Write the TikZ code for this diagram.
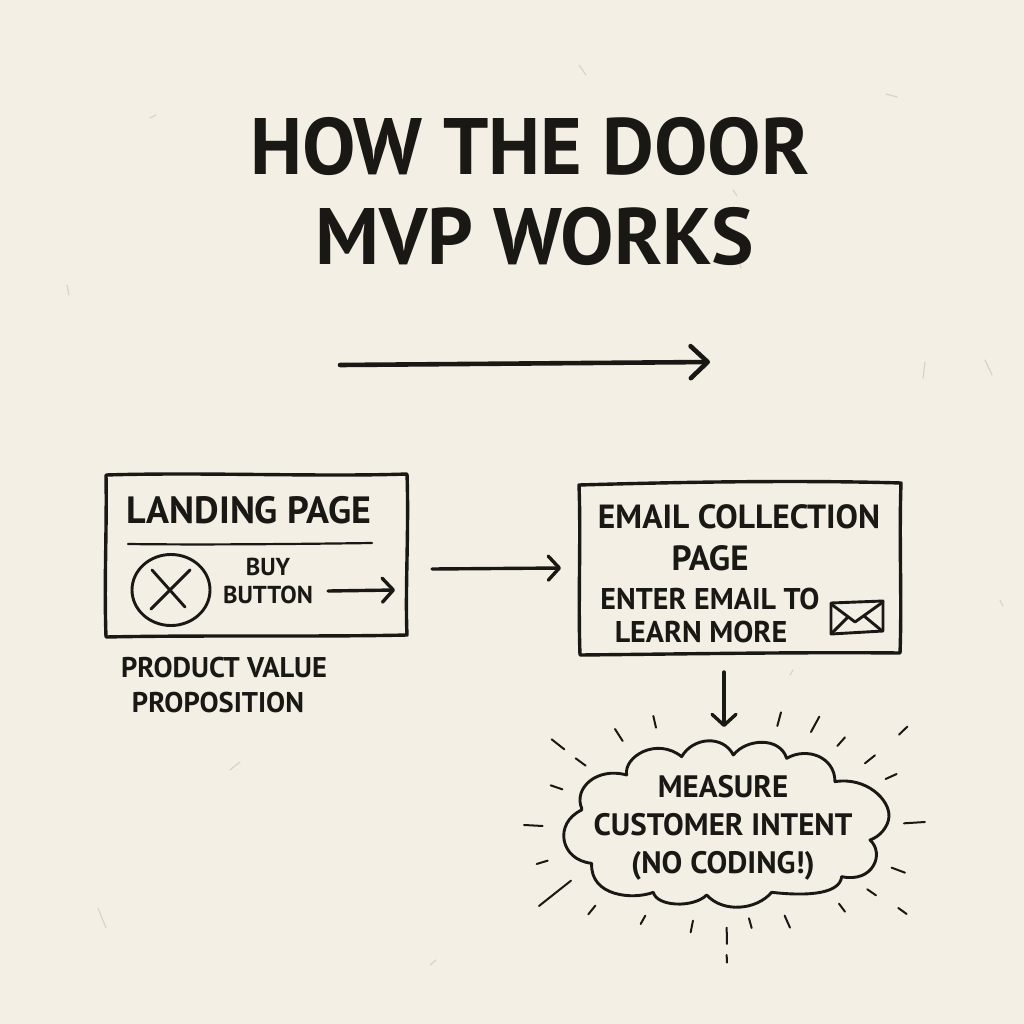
\documentclass[tikz,border=0pt]{standalone}
\usepackage{fontspec}
\setmainfont{PT Sans}
\usetikzlibrary{arrows.meta}
\definecolor{paper}{HTML}{F3EFE4}
\definecolor{ink}{HTML}{1A1815}
\definecolor{fibre}{HTML}{DAD4C1}
\newcommand{\fs}[1]{\fontsize{#1}{#1}\selectfont}
\tikzset{
  x=1pt,y=-1pt,
  sketch/.style={draw=ink,line width=3.4pt,line cap=round,line join=round},
  thin sketch/.style={draw=ink,line width=2.9pt,line cap=round,line join=round},
  tick/.style={draw=ink,line width=2pt,line cap=round},
  fib/.style={draw=fibre,line width=1.2pt,line cap=round},
  arrow big/.style={draw=ink,line width=4.6pt,line cap=round,-{Straight Barb[length=17pt,width=32pt,round,line width=4.6pt]}},
  arrow mid/.style={draw=ink,line width=3.4pt,line cap=round,-{Straight Barb[length=11pt,width=24pt,round,line width=3.4pt]}},
  frame/.style={minimum width=#1,inner sep=0pt,outer sep=0pt},
  label text/.style={text=ink,align=center,inner sep=0pt,font=\bfseries},
}
\begin{document}
\begin{tikzpicture}
\fill[paper] (0,0) rectangle (1024,1024);
\useasboundingbox (0,0) rectangle (1024,1024);
% paper fibres
\foreach \a/\b/\c/\d in {886/94/897/97,985/360/992/375,925/362/923/378,150/118/156/115,67/285/69/295,98/908/106/928,738/258/741/268,733/190/737/196,579/65/586/75,1000/600/1003/606,230/770/240/762,790/675/793/670,430/965/436/960}{
  \draw[fib] (\a,\b) -- (\c,\d);
}
% title
\node[label text,font=\bfseries\fs{80}] (title) at (530,191.5) {HOW THE DOOR\\[10pt]\hspace*{10pt}MVP WORKS};
% flow arrow under the title
\coordinate (flowstart) at (340,365);
\coordinate (flowend) at (710,362);
\draw[arrow big] (flowstart) -- (flowend);
% landing page box
\node[frame=301pt,minimum height=162pt] (landing) at (256.5,555.5) {};
\draw[sketch] (106,475) .. controls (200,472) and (320,477) .. (407,474) .. controls (409,530) and (405,590) .. (407,635) .. controls (320,637) and (200,635) .. (106,637) .. controls (104,580) and (107,530) .. (106,475) -- cycle;
\node[label text,font=\bfseries\fs{38}] (landingtitle) at (249,510) {LANDING PAGE};
\draw[ink,line width=2.2pt,line cap=round] (128,544) .. controls (200,545) and (300,544) .. (372,543);
\draw[thin sketch] (171,590) ellipse [x radius=39,y radius=35.5];
\node[inner sep=0pt] (xmark) at (171,590) {};
\draw[thin sketch] (151,609) -- (190,570) (152,570) -- (185,607);
\node[label text,font=\bfseries\fs{24.5}] (buy) at (268,581) {BUY\\[4pt]BUTTON};
\coordinate (buystart) at (328,591);
\coordinate (buyend) at (395,590);
\draw[arrow mid] (buystart) -- (buyend);
\node[label text,font=\bfseries\fs{28.5}] (value) at (224,685) {PRODUCT VALUE\\[6pt]PROPOSITION\hspace*{12pt}};
% email box
\node[frame=322pt,minimum height=170pt] (email) at (740,569) {};
\draw[sketch] (579,485) .. controls (680,482) and (800,480) .. (901,483) .. controls (899,540) and (902,600) .. (900,653) .. controls (800,652) and (680,654) .. (580,655) .. controls (578,600) and (581,540) .. (579,485) -- cycle;
\node[label text,font=\bfseries\fs{33.5}] (emailtitle) at (739,517) {EMAIL COLLECTION};
\node[label text,font=\bfseries\fs{35}] (emailpage) at (710,558) {PAGE};
\node[label text,font=\bfseries\fs{30}] (enter) at (710,615) {ENTER EMAIL TO\\[3pt]LEARN MORE\hspace*{18pt}};
% envelope
\draw[thin sketch] (831,603) -- (883,601) -- (883,631) -- (831,634) -- cycle;
\draw[thin sketch] (831,604) -- (855,622) -- (883,602);
\draw[thin sketch] (833,632) -- (848,617) (881,630) -- (864,616);
% connector landing to email
\coordinate (landingout) at (432,569);
\coordinate (emailin) at (561,568);
\draw[arrow mid] (landingout) -- (emailin);
% cloud
\node[label text,font=\bfseries\fs{31},minimum width=300pt,minimum height=150pt] (cloud) at (723,827.5) {MEASURE\\[7pt]CUSTOMER INTENT\\[7pt](NO CODING!)};
\begin{scope}[shift={(510,660)},x=.3333pt,y=-.3333pt]
\draw[thin sketch] (215,445) .. controls (190,385) and (260,320) .. (350,345)
 .. controls (340,290) and (440,230) .. (515,290)
 .. controls (550,230) and (640,225) .. (670,285)
 .. controls (710,235) and (810,230) .. (830,295)
 .. controls (890,260) and (975,290) .. (975,365)
 .. controls (1070,350) and (1140,420) .. (1137,470)
 .. controls (1135,500) and (1110,530) .. (1080,540)
 .. controls (1125,580) and (1090,670) .. (995,650)
 .. controls (990,700) and (900,710) .. (785,697)
 .. controls (740,750) and (640,760) .. (590,705)
 .. controls (550,745) and (440,740) .. (430,697)
 .. controls (370,720) and (240,710) .. (245,610)
 .. controls (150,600) and (130,490) .. (215,450) -- cycle;
\foreach \a/\b/\c/\d in {430/168/438/203,315/207/338/243,125/238/163/268,197/295/227/317,122/376/157/388,42/495/98/498,80/612/113/602,87/738/183/662,235/763/256/737,392/792/406/767,542/817/549/782,650/803/651/852,650/885/651/908,717/775/725/804,824/767/840/803,987/731/1005/755,1072/688/1098/706,1145/623/1185/638,1165/744/1190/762,1182/490/1245/486,1127/357/1160/342,1065/310/1095/286,982/258/1005/232,903/216/928/170,802/198/813/157,1167/224/1192/200}{
  \draw[tick] (\a,\b) -- (\c,\d);
}
\end{scope}
% connector email to cloud
\coordinate (emailout) at (724,672);
\coordinate (cloudin) at (724,727);
\draw[arrow mid] (emailout) -- (cloudin);
\end{tikzpicture}
\end{document}
